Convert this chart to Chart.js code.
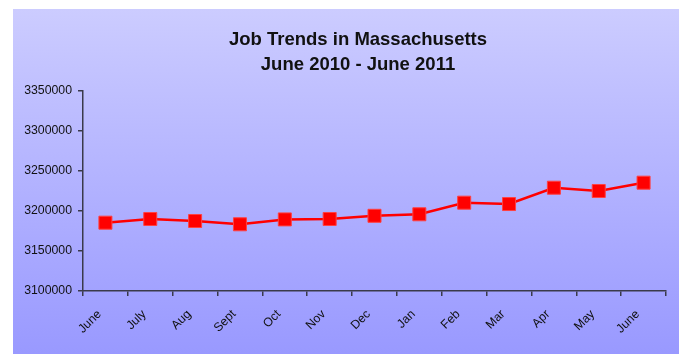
<!DOCTYPE html>
<html>
<head>
<meta charset="utf-8">
<script src="https://cdn.jsdelivr.net/npm/chart.js@4"></script>
<style>
  html, body { margin: 0; padding: 0; background: #fff; }
  #wrap { width: 679px; height: 354px; position: relative; }
</style>
</head>
<body>
<div id="wrap"><canvas id="jobChart"></canvas></div>
<script>
  // months, June 2010 through June 2011
  const months = ['June', 'July', 'Aug', 'Sept', 'Oct', 'Nov', 'Dec', 'Jan', 'Feb', 'Mar', 'Apr', 'May', 'June'];
  const jobs = [3185400, 3190000, 3187500, 3183400, 3189500, 3190000, 3194000, 3195900, 3210400, 3208700, 3229100, 3225000, 3235400];
  const titleLines = ['Job Trends in Massachusetts', 'June 2010 - June 2011'];
  const yMin = 3100000;
  const yMax = 3350000;
  const yStep = 50000;

  const axisColor = '#3a3a4a';
  const fontFamily = 'Liberation Sans, Arial, sans-serif';

  // lavender gradient panel behind everything, title on top of it
  const panelBg = {
    id: 'panelBg',
    beforeDraw(chart) {
      const ctx = chart.ctx;
      const g = ctx.createLinearGradient(0, 9, 0, chart.height);
      g.addColorStop(0, '#CCCCFF');
      g.addColorStop(1, '#9999FF');
      ctx.save();
      ctx.fillStyle = g;
      ctx.fillRect(13, 9, chart.width - 13, chart.height - 9);

      // two-line title, centred over the panel a little right of middle
      ctx.fillStyle = '#111';
      ctx.font = 'bold 18.5px ' + fontFamily;
      ctx.textAlign = 'center';
      ctx.textBaseline = 'middle';
      titleLines.forEach((line, i) => ctx.fillText(line, 358, 40 + i * 25));
      ctx.restore();
    }
  };

  const config = {
    type: 'line',
    data: {
      labels: months,
      datasets: [{
        data: jobs,
        borderColor: '#FF0000',
        borderWidth: 2.5,
        pointStyle: 'rect',
        pointRadius: 9.2,
        pointBackgroundColor: '#FF0000',
        pointBorderColor: '#FF4040',
        pointBorderWidth: 1,
        tension: 0
      }]
    },
    options: {
      responsive: true,
      maintainAspectRatio: false,
      animation: false,
      layout: { padding: { left: 13, right: 13, top: 91, bottom: 0 } },
      plugins: {
        legend: { display: false },
        tooltip: { enabled: false },
        title: { display: false }
      },
      scales: {
        x: {
          offset: true,
          grid: { drawOnChartArea: false, offset: true, tickLength: 5, color: axisColor, lineWidth: 1.5 },
          border: { color: axisColor, width: 1.5 },
          ticks: {
            color: '#111',
            maxRotation: 45,
            minRotation: 45,
            autoSkip: false,
            padding: 11,
            labelOffset: -6,
            font: { family: fontFamily, size: 12.3 }
          },
          afterFit(scale) { scale.height = 63; }
        },
        y: {
          min: yMin,
          max: yMax,
          grid: { drawOnChartArea: false, tickLength: 5, color: axisColor, lineWidth: 1.5 },
          border: { color: axisColor, width: 1.5 },
          ticks: {
            stepSize: yStep,
            color: '#111',
            padding: 6,
            font: { family: fontFamily, size: 12.3 },
            callback: v => String(v)
          },
          afterFit(scale) { scale.width = 70; }
        }
      }
    },
    plugins: [panelBg]
  };

  const jobChart = new Chart(document.getElementById('jobChart'), config);
</script>
</body>
</html>
